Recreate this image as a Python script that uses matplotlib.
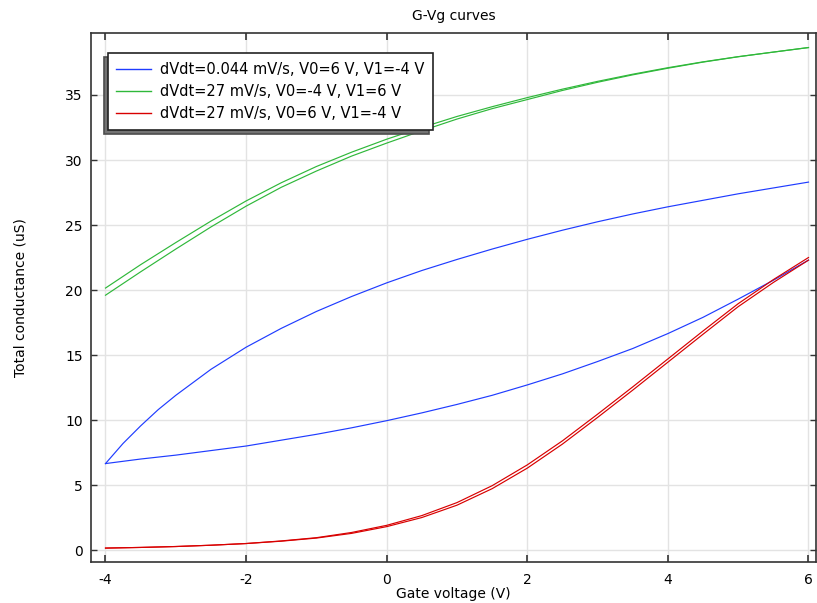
import numpy as np
import matplotlib
matplotlib.use('Agg')
import matplotlib.pyplot as plt

plt.rcParams['font.family'] = 'DejaVu Sans'
plt.rcParams['axes.unicode_minus'] = False

#data (gate voltage in V, conductance in uS)
vg = [-4, -3.5, -3, -2.5, -2, -1.5, -1, -0.5, 0, 0.5, 1, 1.5, 2, 2.5, 3, 3.5, 4, 4.5, 5, 5.5, 6]
#the slow upward branch bends hard near -4 V, so it was read more densely there
vg_fine = [-4, -3.75, -3.5, -3.25, -3, -2.5, -2, -1.5, -1, -0.5, 0, 0.5, 1, 1.5, 2,
           2.5, 3, 3.5, 4, 4.5, 5, 5.5, 6]

#slow sweep, 0.044 mV/s
blue_up = [6.65, 8.2, 9.55, 10.8, 11.9, 13.9, 15.6, 17.05, 18.35, 19.5, 20.55, 21.5, 22.35,
           23.15, 23.9, 24.6, 25.25, 25.85, 26.4, 26.9, 27.4, 27.85, 28.3]
blue_low = [6.65, 7.0, 7.3, 7.65, 8.0, 8.45, 8.9, 9.4, 9.95, 10.55, 11.2,
            11.9, 12.7, 13.55, 14.5, 15.5, 16.65, 17.9, 19.3, 20.75, 22.3]

#fast sweep, V0=-4 V -> V1=6 V
green_up = [20.15, 21.95, 23.65, 25.3, 26.85, 28.25, 29.5, 30.6, 31.6, 32.5, 33.35,
            34.1, 34.8, 35.45, 36.05, 36.6, 37.1, 37.55, 37.95, 38.3, 38.65]
green_low = [19.6, 21.4, 23.15, 24.85, 26.45, 27.9, 29.15, 30.3, 31.3, 32.25, 33.15,
             33.95, 34.65, 35.35, 35.98, 36.55, 37.06, 37.53, 37.94, 38.3, 38.65]

#fast sweep, V0=6 V -> V1=-4 V
red_up = [0.15, 0.2, 0.27, 0.37, 0.5, 0.7, 0.95, 1.35, 1.9, 2.65, 3.65,
          4.95, 6.55, 8.4, 10.45, 12.55, 14.7, 16.85, 18.95, 20.8, 22.5]
red_low = [0.15, 0.2, 0.27, 0.37, 0.5, 0.68, 0.92, 1.28, 1.8, 2.5, 3.45,
           4.72, 6.3, 8.15, 10.2, 12.3, 14.45, 16.6, 18.72, 20.58, 22.3]

labels = ['dVdt=0.044 mV/s, V0=6 V, V1=-4 V',
          'dVdt=27 mV/s, V0=-4 V, V1=6 V',
          'dVdt=27 mV/s, V0=6 V, V1=-4 V']
xticks = [-4, -2, 0, 2, 4, 6]
yticks = [0, 5, 10, 15, 20, 25, 30, 35]

c_blue = '#1f3cff'
c_green = '#2fb83a'
c_red = '#d80000'
lw = 0.85

fig = plt.figure(figsize=(8.17, 6.03), dpi=100)
ax = fig.add_axes([0.1114, 0.068, 0.8874, 0.8773])

ax.plot(vg_fine, blue_up, color=c_blue, lw=lw, label=labels[0])
ax.plot(vg, blue_low, color=c_blue, lw=lw)
ax.plot(vg, green_up, color=c_green, lw=lw, label=labels[1])
ax.plot(vg, green_low, color=c_green, lw=lw)
ax.plot(vg, red_up, color=c_red, lw=lw, label=labels[2])
ax.plot(vg, red_low, color=c_red, lw=lw)

ax.set_xlim(-4.206, 6.107)
ax.set_ylim(-0.92, 39.77)
ax.set_xticks(xticks)
ax.set_yticks(yticks)
ax.grid(True, color='#e3e3e3', lw=1.0)
ax.set_axisbelow(True)

ax.tick_params(axis='both', direction='in', labelsize=10, color='#333333')
ax.tick_params(axis='x', top=True, length=5, width=1.2, pad=8)
ax.tick_params(axis='y', right=True, length=4, width=1.0, pad=6)
for sp in ax.spines.values():
    sp.set_color('#333333')
    sp.set_linewidth(1.2)

ax.set_title('G-Vg curves', fontsize=10, pad=9)
ax.set_xlabel('Gate voltage (V)', fontsize=10, labelpad=0)
ax.set_ylabel('Total conductance (uS)', fontsize=10, labelpad=27)

leg = ax.legend(loc='upper left', bbox_to_anchor=(0.023, 0.962), fontsize=10.5,
                fancybox=False, framealpha=1, edgecolor='#222222',
                handlelength=2.4, handletextpad=0.6, labelspacing=0.5,
                borderpad=0.6, borderaxespad=0,
                shadow={'ox': -3, 'oy': -3, 'facecolor': '0.45', 'alpha': 1})
leg.get_frame().set_linewidth(1.2)
for h in leg.get_lines():
    h.set_linewidth(1.0)

plt.savefig('out.png', dpi=100)
